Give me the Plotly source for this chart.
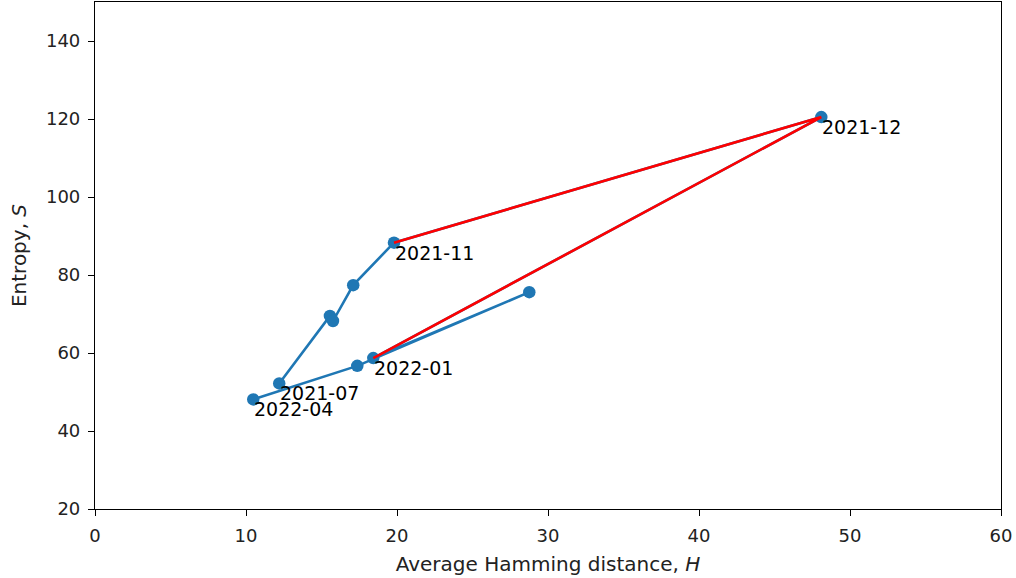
import plotly.graph_objects as go

# Monthly trajectory (chronological)
months = ["2021-07", "2021-08", "2021-09", "2021-10", "2021-11", "2021-12",
          "2022-01", "2022-02", "2022-03", "2022-04"]
hamming = [12.2, 15.56, 15.76, 17.1, 19.8, 48.1, 18.43, 28.76, 17.37, 10.48]
entropy = [52.2, 69.5, 68.2, 77.4, 88.3, 120.5, 58.7, 75.6, 56.7, 48.1]

# Highlighted segment
red_months = ["2021-11", "2021-12", "2022-01"]
labelled = ["2021-07", "2021-11", "2021-12", "2022-01", "2022-04"]

x_ticks = [0, 10, 20, 30, 40, 50, 60]
y_ticks = [20, 40, 60, 80, 100, 120, 140]

BLUE = "#1f77b4"
FONT = "DejaVu Sans"
TXT = "#222"

fig = go.Figure()
fig.add_trace(go.Scatter(
    x=hamming, y=entropy, mode="lines+markers",
    line=dict(color=BLUE, width=2.6),
    marker=dict(color=BLUE, size=12.5),
    showlegend=False, hoverinfo="skip"))

idx = {m: i for i, m in enumerate(months)}
fig.add_trace(go.Scatter(
    x=[hamming[idx[m]] for m in red_months],
    y=[entropy[idx[m]] for m in red_months],
    mode="lines", line=dict(color="red", width=2.6),
    showlegend=False, hoverinfo="skip"))

for m in labelled:
    fig.add_annotation(x=hamming[idx[m]], y=entropy[idx[m]], text=m,
                       showarrow=False, xanchor="left", yanchor="top",
                       xshift=-1, yshift=3,
                       font=dict(family=FONT, size=19, color="black"))

axis_common = dict(showgrid=False, zeroline=False, showline=True, mirror=True,
                   linecolor="black", linewidth=1.2, ticks="outside", ticklen=6,
                   tickcolor="black", ticklabelstandoff=4,
                   tickfont=dict(family=FONT, size=18, color=TXT))

fig.update_xaxes(range=[0, 60], tickvals=x_ticks,
                 title=dict(text="Average Hamming distance, <i>H</i>",
                            font=dict(family=FONT, size=20, color=TXT), standoff=12),
                 **axis_common)
fig.update_yaxes(range=[20, 150], tickvals=y_ticks,
                 title=dict(text="Entropy, <i>S</i>",
                            font=dict(family=FONT, size=20, color=TXT), standoff=13),
                 **axis_common)

fig.update_layout(width=1016, height=578,
                  margin=dict(l=95, r=15, t=2, b=69),
                  plot_bgcolor="white", paper_bgcolor="white")

fig.write_html("out.html", config={"displayModeBar": False},
               post_script="document.body.style.margin='0';document.body.style.overflow='hidden';")
